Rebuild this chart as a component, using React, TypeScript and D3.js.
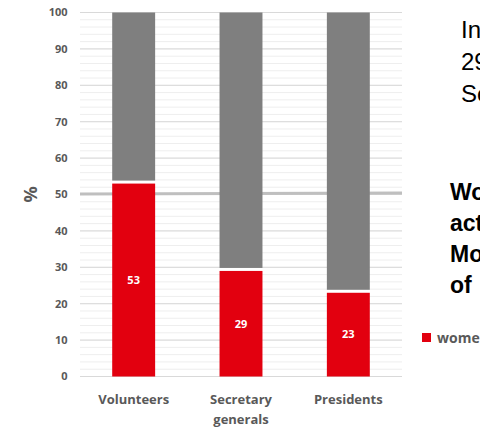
import React from "react";
import * as d3 from "d3";

const categories = ["Volunteers", "Secretary generals", "Presidents"];
const categoryLines = [["Volunteers"], ["Secretary", "generals"], ["Presidents"]];
const womenValues = [53, 29, 23];
const menValues = [47, 71, 77];
const yTicks = [0, 10, 20, 30, 40, 50, 60, 70, 80, 90, 100];
const minorTicks = d3.range(0, 101, 2);
const referenceValue = 50;
const sideTextLines = ["In", "29%", "Se"];
const sideBoldLines = ["Women", "active", "Movement", "of"];
const legendLabel = "women";

const W = 480;
const H = 430;
const plot = { left: 80, right: 402, top: 12.5, bottom: 376.5 };
const gray = "#595959";
const red = "#e2000f";
const barGray = "#7f7f7f";
const font = "'Open Sans', sans-serif";

export default function App() {
  const x = d3
    .scaleBand<string>()
    .domain(categories)
    .range([plot.left, plot.right])
    .paddingInner(0.6)
    .paddingOuter(0.3);
  const y = d3.scaleLinear().domain([0, 100]).range([plot.bottom, plot.top]);
  const bw = x.bandwidth();

  return (
    <div style={{ position: "fixed", left: 0, top: 0, width: W, height: H, background: "#fff" }}>
      <svg width={W} height={H} style={{ display: "block", overflow: "hidden" }}>
        <rect x={0} y={0} width={W} height={H} fill="#fff" />
        {/* minor gridlines */}
        {minorTicks.map((t) => (
          <line
            key={"m" + t}
            x1={plot.left}
            x2={plot.right}
            y1={y(t)}
            y2={y(t)}
            stroke="#eeeeee"
            strokeWidth={1}
          />
        ))}
        {/* major gridlines */}
        {yTicks.map((t) => (
          <line
            key={"g" + t}
            x1={plot.left}
            x2={plot.right}
            y1={y(t)}
            y2={y(t)}
            stroke="#d9d9d9"
            strokeWidth={1}
          />
        ))}
        {/* 50% reference line */}
        <line
          x1={plot.left}
          x2={plot.right}
          y1={y(referenceValue) - 0.5}
          y2={y(referenceValue) - 1.5}
          stroke="#bfbfbf"
          strokeWidth={3}
        />
        {/* bars */}
        {categories.map((c, i) => {
          const x0 = x(c)!;
          const w = womenValues[i];
          const m = menValues[i];
          return (
            <g key={c}>
              <rect
                x={x0}
                y={y(w + m)}
                width={bw}
                height={y(w) - y(w + m) - 3}
                fill={barGray}
              />
              <rect x={x0} y={y(w)} width={bw} height={y(0) - y(w)} fill={red} />
              <text
                x={x0 + bw / 2}
                y={y(w / 2)}
                dy="0.35em"
                textAnchor="middle"
                fill="#fff"
                fontFamily={font}
                fontWeight={700}
                fontSize={11}
              >
                {w}
              </text>
            </g>
          );
        })}
        {/* y tick labels */}
        {yTicks.map((t) => (
          <text
            key={"t" + t}
            x={67.5}
            y={y(t)}
            dy="0.35em"
            textAnchor="end"
            fill={gray}
            fontFamily={font}
            fontWeight={700}
            fontSize={11}
          >
            {t}
          </text>
        ))}
        {/* y axis title */}
        <text
          transform={`translate(37,${y(referenceValue)}) rotate(-90)`}
          textAnchor="middle"
          fill={gray}
          fontFamily={font}
          fontWeight={700}
          fontSize={18}
        >
          %
        </text>
        {/* x labels */}
        {categories.map((c, i) => (
          <text
            key={"x" + c}
            x={x(c)! + bw / 2}
            y={404}
            textAnchor="middle"
            fill={gray}
            fontFamily={font}
            fontWeight={700}
            fontSize={13}
          >
            {categoryLines[i].map((l, j) => (
              <tspan key={j} x={x(c)! + bw / 2} dy={j === 0 ? 0 : 20}>
                {l}
              </tspan>
            ))}
          </text>
        ))}
        {/* side text */}
        {sideTextLines.map((l, i) => (
          <text
            key={"s" + i}
            x={461}
            y={37.5 + i * 32}
            fill="#000"
            fontFamily="'Liberation Sans', Arial, sans-serif"
            fontSize={24}
          >
            {l}
          </text>
        ))}
        {sideBoldLines.map((l, i) => (
          <text
            key={"b" + i}
            x={450}
            y={200 + i * 31}
            fill="#000"
            fontFamily="'Liberation Sans', Arial, sans-serif"
            fontWeight={700}
            fontSize={23}
          >
            {l}
          </text>
        ))}
        {/* legend */}
        <rect x={422} y={333} width={9} height={9} fill={red} />
        <text
          x={437}
          y={342.5}
          fill={gray}
          fontFamily={font}
          fontWeight={700}
          fontSize={14}
        >
          {legendLabel}
        </text>
      </svg>
    </div>
  );
}
